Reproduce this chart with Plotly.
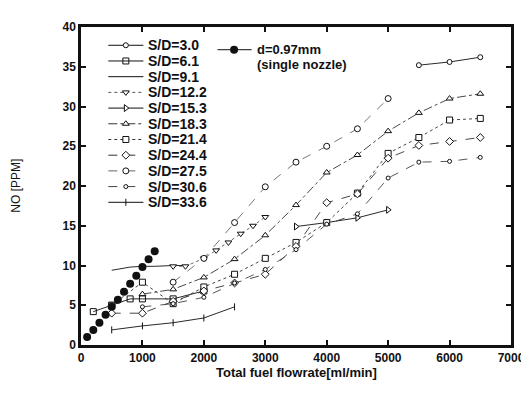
import plotly.graph_objects as go

# ---------------- data ----------------
single_x = [100, 200, 300, 400, 500, 600, 700, 800, 900, 1000, 1100, 1200]
single_y = [1.0, 1.9, 2.8, 3.8, 4.8, 5.7, 6.7, 7.7, 8.7, 9.8, 10.8, 11.8]

sd30_x = [5500, 6000, 6500]
sd30_y = [35.2, 35.6, 36.2]
sd61_x = [200, 500, 800, 1000, 1500, 2000]
sd61_y = [4.2, 5.0, 5.8, 5.8, 5.8, 6.8]
sd91_x = [500, 800, 1000, 1200, 1500, 1700]
sd91_y = [9.4, 9.8, 9.9, 9.9, 10.0, 10.0]
sd122_x = [1500, 1700, 2000, 2200, 2400, 2600, 2800, 3000]
sd122_y = [9.9, 9.9, 10.9, 11.9, 12.9, 14.0, 15.0, 16.1]
sd153_x = [3500, 4000, 4500, 5000]
sd153_y = [14.9, 15.4, 16.0, 17.0]
sd183_x = [1000, 1500, 2000, 2500, 3000, 3500, 4000, 4500, 5000, 5500, 6000, 6500]
sd183_y = [6.4, 7.0, 8.5, 10.8, 13.8, 17.6, 21.7, 23.9, 26.9, 29.2, 31.0, 31.6]
sd214_x = [500, 1000, 1500, 2000, 2500, 3000, 3500, 4000, 4500, 5000, 5500, 6000, 6500]
sd214_y = [5.0, 7.9, 5.2, 7.3, 8.9, 10.9, 12.9, 15.4, 19.1, 24.1, 26.1, 28.3, 28.5]
sd244_x = [500, 1000, 1500, 2000, 2500, 3000, 3500, 4000, 4500, 5000, 5500, 6000, 6500]
sd244_y = [4.0, 4.0, 5.5, 6.8, 7.8, 8.9, 12.4, 17.9, 19.0, 23.5, 25.1, 25.6, 26.1]
sd275_x = [1500, 2000, 2500, 3000, 3500, 4000, 4500, 5000]
sd275_y = [7.9, 10.9, 15.4, 19.9, 23.0, 25.0, 27.2, 31.0]
sd306_x = [1000, 1500, 2000, 2500, 3000, 3500, 4000, 4500, 5000, 5500, 6000, 6500]
sd306_y = [4.8, 5.2, 6.0, 7.8, 9.5, 12.0, 15.2, 16.5, 21.0, 23.0, 23.1, 23.6]
sd336_x = [500, 1000, 1500, 2000, 2500]
sd336_y = [1.9, 2.4, 2.8, 3.4, 4.8]

x_ticks = [0, 1000, 2000, 3000, 4000, 5000, 6000, 7000]
y_ticks = [0, 5, 10, 15, 20, 25, 30, 35, 40]

labels = ["S/D=3.0", "S/D=6.1", "S/D=9.1", "S/D=12.2", "S/D=15.3", "S/D=18.3",
          "S/D=21.4", "S/D=24.4", "S/D=27.5", "S/D=30.6", "S/D=33.6"]

# ---------------- styles ----------------
FONT = "Liberation Sans, Arial, sans-serif"
INK = "#111111"
series = [
    (sd30_x, sd30_y, dict(dash="solid", color=INK), dict(symbol="circle", size=5, color="white")),
    (sd61_x, sd61_y, dict(dash="solid", color=INK), dict(symbol="square-open", size=6, color=INK)),
    (sd91_x, sd91_y, dict(dash="solid", color=INK), None),
    (sd122_x, sd122_y, dict(dash="dot", color="#555"), dict(symbol="triangle-down", size=6, color="white")),
    (sd153_x, sd153_y, dict(dash="solid", color=INK), dict(symbol="triangle-right", size=6, color="white")),
    (sd183_x, sd183_y, dict(dash="dashdot", color="#333"), dict(symbol="triangle-up", size=6, color="white")),
    (sd214_x, sd214_y, dict(dash="dot", color="#333"), dict(symbol="square", size=6, color="white")),
    (sd244_x, sd244_y, dict(dash="dash", color="#333"), dict(symbol="diamond", size=6, color="white")),
    (sd275_x, sd275_y, dict(dash="dash", color="#666"), dict(symbol="circle", size=6, color="white")),
    (sd306_x, sd306_y, dict(dash="dash", color="#444"), dict(symbol="circle", size=4, color="white")),
    (sd336_x, sd336_y, dict(dash="solid", color=INK), dict(symbol="line-ns", size=5, color=INK)),
]

fig = go.Figure()

for (xs, ys, ln, mk), name in zip(series, labels):
    marker = dict(mk) if mk else dict(size=1, color=INK)
    if mk:
        marker["line"] = dict(color=INK, width=1)
    fig.add_trace(go.Scatter(
        x=xs, y=ys, name=name, mode="lines+markers" if mk else "lines",
        line=dict(width=0.9, **ln), marker=marker, showlegend=False,
    ))

fig.add_trace(go.Scatter(
    x=single_x, y=single_y, name="d=0.97mm", mode="markers",
    marker=dict(symbol="circle", size=8, color=INK), showlegend=False,
))

# ---------------- custom legend (pixel-like overlay axis) ----------------
L_TOP, L_STEP = 33.5, 15.9
for i, ((xs, ys, ln, mk), name) in enumerate(zip(series, labels)):
    yy = L_TOP + i * L_STEP
    marker = dict(mk) if mk else dict(size=1, color=INK)
    if mk:
        marker["line"] = dict(color=INK, width=1)
    fig.add_trace(go.Scatter(
        x=[101, 137], y=[yy, yy], xaxis="x2", yaxis="y2", mode="lines",
        line=dict(width=1, **ln), showlegend=False, hoverinfo="skip"))
    if mk:
        fig.add_trace(go.Scatter(
            x=[119], y=[yy], xaxis="x2", yaxis="y2", mode="markers",
            marker=marker, showlegend=False, hoverinfo="skip"))
    fig.add_annotation(x=140, y=yy, xref="x2", yref="y2", text=name,
                       showarrow=False, xanchor="left", yanchor="middle",
                       font=dict(family=FONT, size=14, color=INK, weight="bold"))

fig.add_trace(go.Scatter(
    x=[213, 248], y=[38, 38], xaxis="x2", yaxis="y2", mode="lines",
    line=dict(width=1, color=INK), showlegend=False, hoverinfo="skip"))
fig.add_trace(go.Scatter(
    x=[230], y=[38], xaxis="x2", yaxis="y2", mode="markers",
    marker=dict(size=8, color=INK), showlegend=False, hoverinfo="skip"))
fig.add_annotation(x=251, y=38, xref="x2", yref="y2", text="d=0.97mm",
                   showarrow=False, xanchor="left", yanchor="middle",
                   font=dict(family=FONT, size=13, color=INK, weight="bold"))
fig.add_annotation(x=251, y=53, xref="x2", yref="y2", text="(single nozzle)",
                   showarrow=False, xanchor="left", yanchor="middle",
                   font=dict(family=FONT, size=13, color=INK, weight="bold"))

# ---------------- axis titles ----------------
fig.add_annotation(x=0.5, y=-0.085, xref="paper", yref="paper", yanchor="middle",
                   text="Total fuel flowrate[ml/min]", showarrow=False,
                   font=dict(family=FONT, size=13, color=INK, weight="bold"))
fig.add_annotation(x=-0.152, y=0.5, xref="paper", yref="paper", textangle=-90,
                   xanchor="center", yanchor="middle", text="NO [PPM]", showarrow=False,
                   font=dict(family=FONT, size=12, color=INK))

axis_common = dict(
    showgrid=False, zeroline=False, showline=True, linewidth=2.5, linecolor=INK,
    mirror="ticks", ticks="inside", ticklen=5, tickwidth=1.5, tickcolor=INK,
    tickfont=dict(family=FONT, size=12, color=INK, weight="bold"),
)
fig.update_layout(
    width=529, height=395,
    margin=dict(l=73, r=15, t=15, b=58),
    paper_bgcolor="white", plot_bgcolor="white",
    showlegend=False,
    xaxis=dict(range=[0, 7000], tickvals=x_ticks, **axis_common),
    yaxis=dict(range=[0, 40], tickvals=y_ticks, **axis_common),
    xaxis2=dict(range=[73, 514], overlaying="x", visible=False),
    yaxis2=dict(range=[337, 15], overlaying="y", visible=False),
)

fig.write_html("out.html")
